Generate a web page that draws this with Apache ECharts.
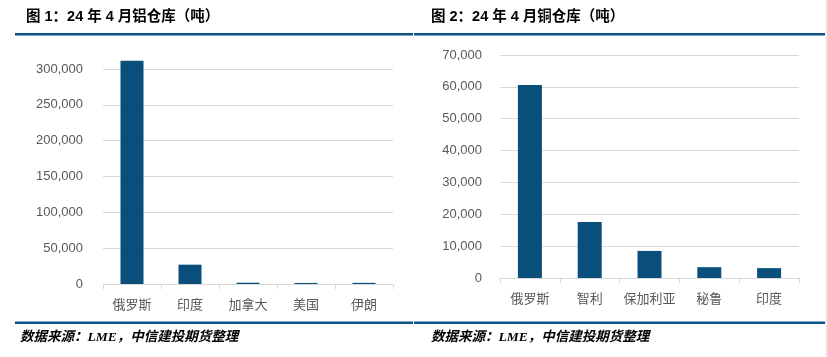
<!DOCTYPE html>
<html>
<head>
<meta charset="utf-8">
<script src="https://cdn.jsdelivr.net/npm/echarts@6/dist/echarts.min.js"></script>
<style>
html,body{margin:0;padding:0;background:#fff;}
#c{width:827px;height:357px;}
</style>
</head>
<body>
<div id="c"></div>
<script>
// Figure 1: aluminium warehouse stocks, April 2024 (tonnes)
const alCategories = ['俄罗斯', '印度', '加拿大', '美国', '伊朗'];
const alValues = [311500, 27000, 1800, 1500, 1600];
const alTicks = [0, 50000, 100000, 150000, 200000, 250000, 300000];

// Figure 2: copper warehouse stocks, April 2024 (tonnes)
const cuCategories = ['俄罗斯', '智利', '保加利亚', '秘鲁', '印度'];
const cuValues = [60600, 17600, 8500, 3400, 3100];
const cuTicks = [0, 10000, 20000, 30000, 40000, 50000, 60000, 70000];

const title1 = '图 1：24 年 4 月铝仓库（吨）';
const title2 = '图 2：24 年 4 月铜仓库（吨）';
const sourceText = '数据来源：LME，中信建投期货整理';

const barColor = '#0a4e7c';
const ruleColor = '#0b5386';
const labelColor = '#595959';
const gridColor = '#d9d9d9';
const cjk = '"Liberation Sans", "Noto Sans CJK SC", sans-serif';

const fmt = v => v.toLocaleString('en-US');

function yAxis(gridIndex, ticks, margin) {
  return {
    type: 'value', gridIndex,
    min: ticks[0], max: ticks[ticks.length - 1],
    interval: ticks[1] - ticks[0],
    axisLine: {show: false}, axisTick: {show: false},
    splitLine: {lineStyle: {color: gridColor, width: 1}},
    axisLabel: {color: labelColor, fontSize: 13, fontFamily: cjk, margin, formatter: fmt}
  };
}
function xAxis(gridIndex, cats) {
  return {
    type: 'category', gridIndex, data: cats,
    axisLine: {lineStyle: {color: gridColor, width: 1}},
    axisTick: {show: true, length: 5, lineStyle: {color: gridColor}},
    axisLabel: {color: labelColor, fontSize: 13, fontFamily: cjk, margin: 15, interval: 0}
  };
}

const chart = echarts.init(document.getElementById('c'), null, {renderer: 'canvas'});
chart.setOption({
  animation: false,
  title: [
    {text: title1, left: 26, top: 10, padding: 0, textStyle: {fontSize: 14.5, fontWeight: 'bold', color: '#000', fontFamily: cjk}},
    {text: title2, left: 431, top: 10, padding: 0, textStyle: {fontSize: 14.5, fontWeight: 'bold', color: '#000', fontFamily: cjk}}
  ],
  grid: [
    {left: 103, right: 434, top: 69, bottom: 73},
    {left: 500, right: 28, top: 55, bottom: 79}
  ],
  xAxis: [xAxis(0, alCategories), xAxis(1, cuCategories)],
  yAxis: [yAxis(0, alTicks, 20), yAxis(1, cuTicks, 18)],
  series: [
    {type: 'bar', xAxisIndex: 0, yAxisIndex: 0, data: alValues, barWidth: 23, clip: false,
     itemStyle: {color: barColor}},
    {type: 'bar', xAxisIndex: 1, yAxisIndex: 1, data: cuValues, barWidth: 24,
     itemStyle: {color: barColor}}
  ],
  graphic: [
    {type: 'rect', shape: {x: 825, y: 0, width: 2, height: 357}, style: {fill: '#f0f0f0'}, silent: true},
    {type: 'rect', shape: {x: 15, y: 33, width: 398, height: 2.5}, style: {fill: ruleColor}},
    {type: 'rect', shape: {x: 414, y: 33, width: 411, height: 2.5}, style: {fill: ruleColor}},
    {type: 'rect', shape: {x: 15, y: 321.5, width: 398, height: 2.5}, style: {fill: ruleColor}},
    {type: 'rect', shape: {x: 414, y: 321.5, width: 411, height: 2.5}, style: {fill: ruleColor}},
    {type: 'text', left: 20, top: 331, style: {text: sourceText, fill: '#000', font: 'italic bold 13.5px "Liberation Serif", "Noto Sans CJK SC", serif'}},
    {type: 'text', left: 431, top: 331, style: {text: sourceText, fill: '#000', font: 'italic bold 13.5px "Liberation Serif", "Noto Sans CJK SC", serif'}}
  ]
});
</script>
</body>
</html>
